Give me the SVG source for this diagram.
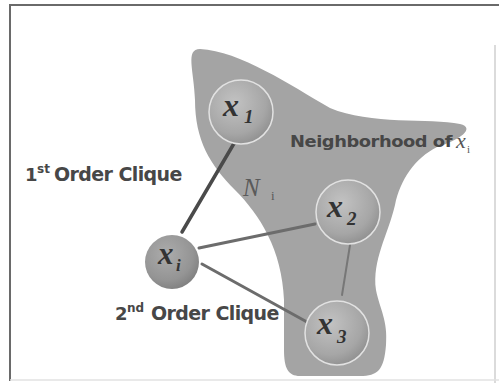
<svg xmlns="http://www.w3.org/2000/svg" width="499" height="383" viewBox="0 0 499 383">
<defs>
<radialGradient id="sph" cx="0.4" cy="0.35" r="0.7">
<stop offset="0" stop-color="#c2c2c2"/>
<stop offset="0.7" stop-color="#a6a6a6"/>
<stop offset="1" stop-color="#8e8e8e"/>
</radialGradient>
<radialGradient id="sphi" cx="0.4" cy="0.35" r="0.7">
<stop offset="0" stop-color="#acacac"/>
<stop offset="0.7" stop-color="#949494"/>
<stop offset="1" stop-color="#7e7e7e"/>
</radialGradient>
</defs>
<style>
.lbl{font-family:"DejaVu Sans",Verdana,sans-serif;font-weight:bold;fill:#474747}
.var{font-family:"Liberation Serif","Times New Roman",serif;font-style:italic;font-weight:bold;fill:#333}
.sub{font-family:"Liberation Serif","Times New Roman",serif;font-style:italic;font-weight:bold;fill:#333}
.node{stroke:#e2e2e2;stroke-width:1.5}
.edge{fill:none;stroke-linecap:round}
</style>
<rect width="499" height="383" fill="#ffffff"/>
<g id="frame" fill="none">
<path d="M9,5 H499" stroke="#6a6a6a" stroke-width="2"/>
<path d="M10,5 V381" stroke="#6a6a6a" stroke-width="2"/>
<path d="M495,45 V383" stroke="#cfcfcf" stroke-width="1.5"/>
<path d="M10,380 H499" stroke="#e2e2e2" stroke-width="1.5"/>
</g>
<g id="neighborhood">
<path d="M200,49 C240,51 290,85 330,108 C370,125 430,118 460,124 C476,128 460,140 437,147 C415,158 400,180 395,205 C388,235 372,260 376,290 C380,310 388,320 386,345 C384,370 378,376 360,376 L300,376 C288,376 284,368 284,350 L284,300 C282,250 260,215 235,190 C210,165 195,140 195,100 C194,70 185,49 200,49 Z" fill="#a4a4a4"/>
<text x="290" y="147" class="lbl" font-size="16" letter-spacing="-0.4" textLength="162" lengthAdjust="spacingAndGlyphs">Neighborhood of</text>
<text x="456" y="148" font-family="Liberation Serif, serif" font-style="italic" font-size="22" fill="#555">x</text>
<text x="467" y="153" font-family="Liberation Serif, serif" font-size="11" fill="#555">i</text>
<text x="243" y="196" font-family="Liberation Serif, serif" font-style="italic" font-size="25" fill="#5a5a5a">N</text>
<text x="271" y="200" font-family="Liberation Serif, serif" font-size="13" fill="#5a5a5a">i</text>
</g>
<g id="connectors" class="edge">
<path d="M182,232 L236,140" stroke="#4a4a4a" stroke-width="3.5"/>
<path d="M199,248 L315,224" stroke="#6c6c6c" stroke-width="3"/>
<path d="M202,264 L307,322" stroke="#6c6c6c" stroke-width="3"/>
<path d="M350,245 L342,295" stroke="#777777" stroke-width="2"/>
</g>
<g id="node-x1">
<circle cx="241" cy="112" r="32" fill="url(#sph)" class="node"/>
<text x="223" y="116" class="var" font-size="32">x</text>
<text x="244" y="123" class="sub" font-size="19">1</text>
</g>
<g id="node-x2">
<circle cx="348" cy="212" r="32" fill="url(#sph)" class="node"/>
<text x="327" y="217" class="var" font-size="32">x</text>
<text x="347" y="225" class="sub" font-size="19">2</text>
</g>
<g id="node-x3">
<circle cx="337" cy="333" r="32" fill="url(#sph)" class="node"/>
<text x="317" y="334" class="var" font-size="32">x</text>
<text x="337" y="343" class="sub" font-size="19">3</text>
</g>
<g id="node-xi">
<circle cx="172" cy="262" r="27" fill="url(#sphi)"/>
<text x="158" y="264" class="var" font-size="31">x</text>
<text x="176" y="271" class="sub" font-size="17">i</text>
</g>
<g id="label-1st">
<text x="25" y="181" class="lbl" font-size="18">1</text>
<text x="37" y="173" class="lbl" font-size="12">st</text>
<text x="54" y="181" class="lbl" font-size="19" letter-spacing="-0.6">Order Clique</text>
</g>
<g id="label-2nd">
<text x="115" y="320" class="lbl" font-size="18">2</text>
<text x="127" y="312" class="lbl" font-size="12">nd</text>
<text x="151" y="320" class="lbl" font-size="19" letter-spacing="-0.6">Order Clique</text>
</g>
</svg>
